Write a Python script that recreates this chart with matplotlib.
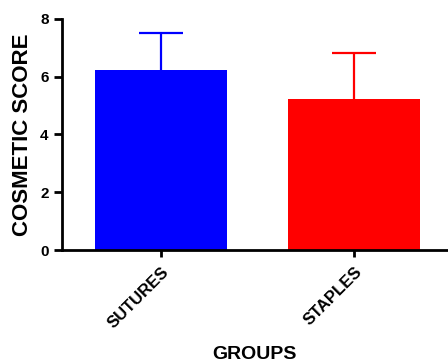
import matplotlib.pyplot as plt

plt.rcParams['font.family'] = ['Liberation Sans', 'DejaVu Sans']
plt.rcParams['font.weight'] = 'bold'

groups = ['SUTURES', 'STAPLES']
means = [6.23, 5.22]
sd = [1.28, 1.60]
colors = ['#0000ff', '#ff0000']

fig = plt.figure(figsize=(4.48, 3.62), dpi=100)
ax = fig.add_axes([0.138, 0.309, 0.862, 0.639])

x = range(len(groups))
ax.bar(x, means, width=0.684, color=colors, zorder=2)
# upper error bar only, coloured like its bar
for xi, m, s, c in zip(x, means, sd, colors):
    _, caps, _ = ax.errorbar(xi, m, yerr=[[0], [s]], color=c, capsize=16,
                             elinewidth=1.6, capthick=1.6, zorder=1)
    caps[0].set_visible(False)

ax.set_xlim(-0.513, 1.487)
ax.set_ylim(0, 8)
ax.set_yticks([0, 2, 4, 6, 8])
ax.set_xticks(list(x))
ax.set_xticklabels(groups, rotation=45, ha='right', rotation_mode='anchor',
                   fontsize=12, fontweight='bold')
ax.tick_params(axis='y', labelsize=11, width=2, length=6)
ax.tick_params(axis='x', width=2, length=5, pad=5)
for lbl in ax.get_yticklabels():
    lbl.set_fontweight('bold')

ax.spines['top'].set_visible(False)
ax.spines['right'].set_visible(False)
ax.spines['left'].set_linewidth(2)
ax.spines['bottom'].set_linewidth(2)

ax.set_ylabel('COSMETIC SCORE', fontsize=16, fontweight='bold', labelpad=5)
ax.set_xlabel('GROUPS', fontsize=14, fontweight='bold', labelpad=11)

fig.savefig('out.png', dpi=100)
